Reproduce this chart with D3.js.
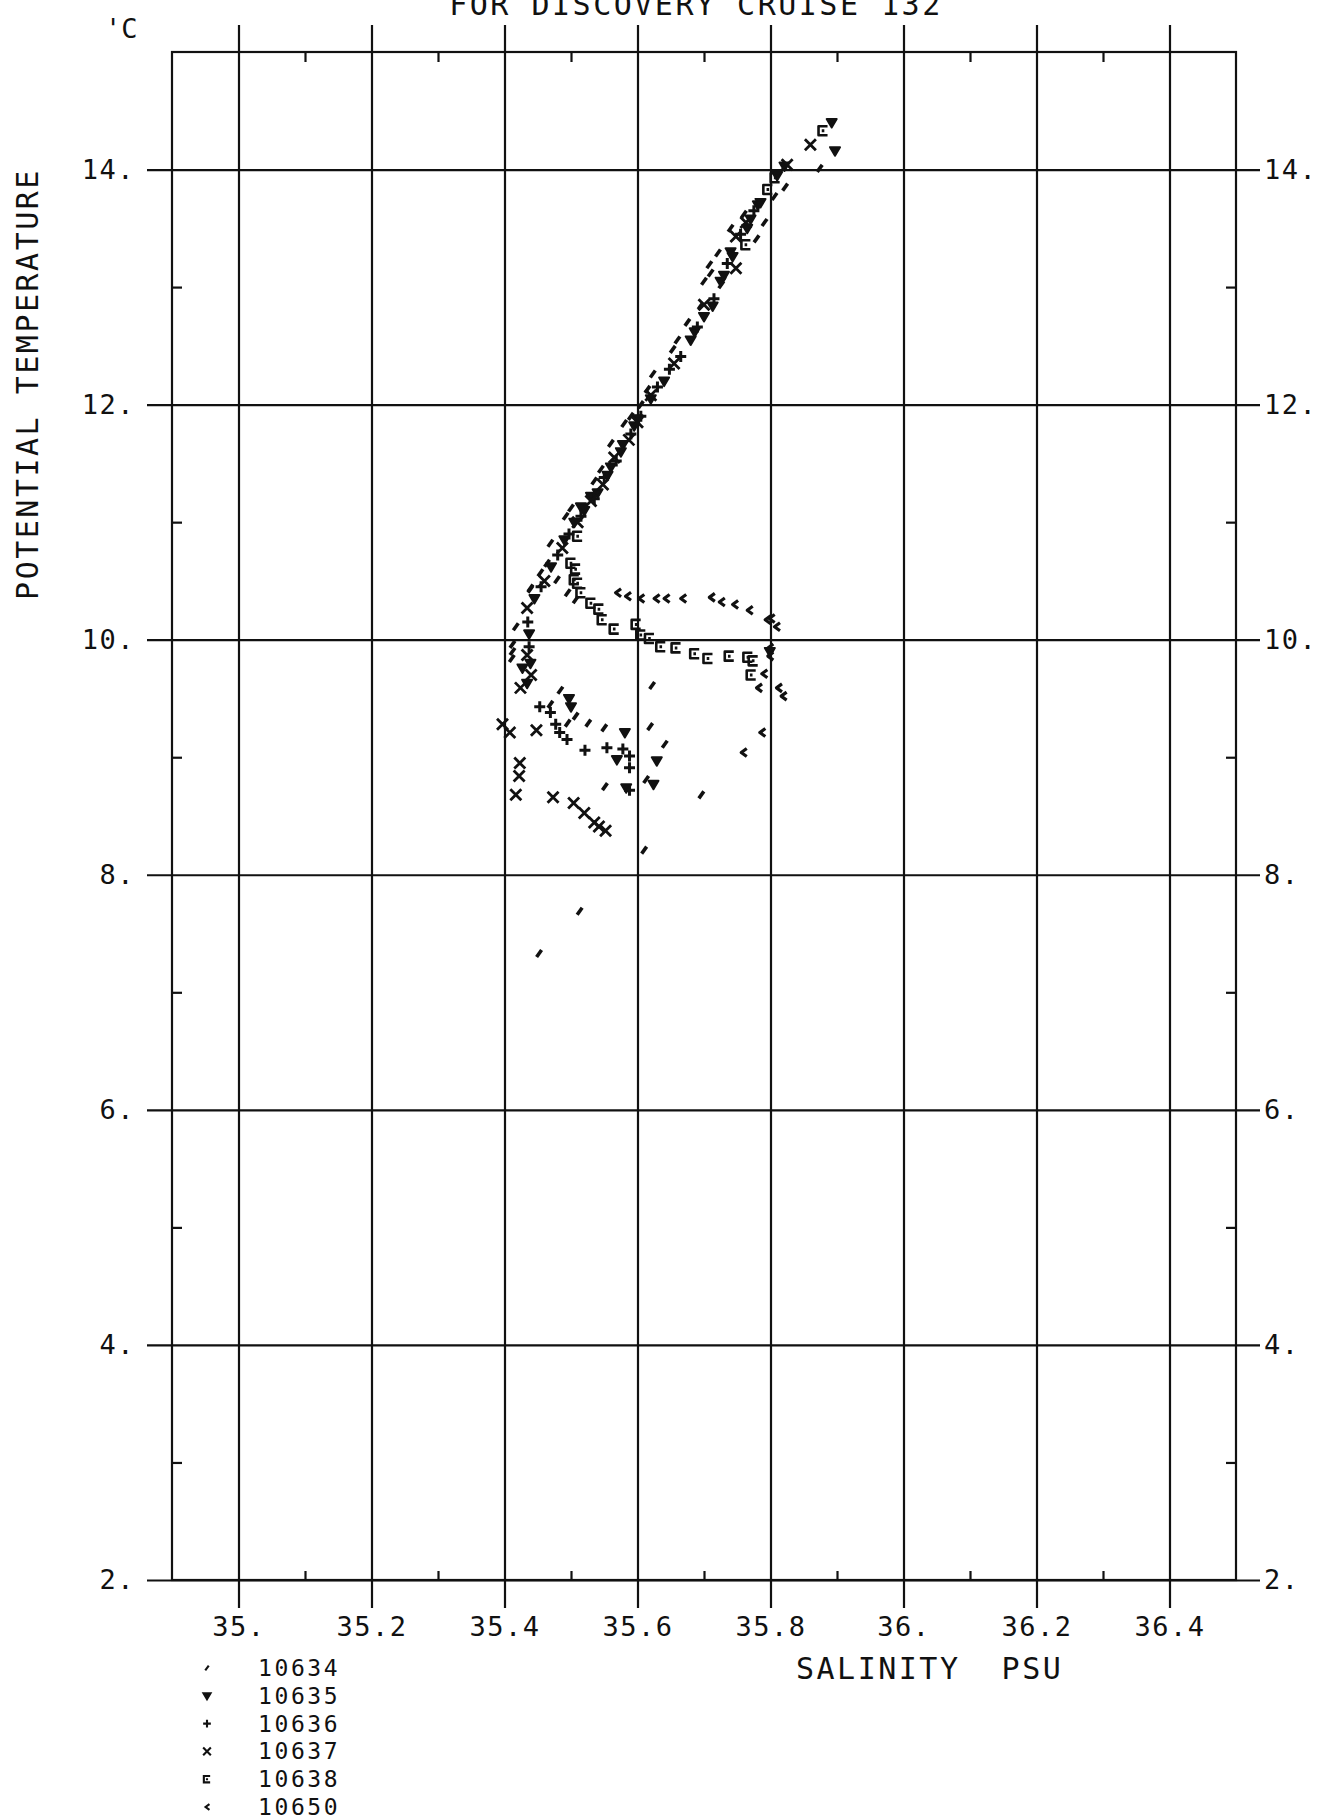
<!DOCTYPE html>
<html>
<head>
<meta charset="utf-8">
<script src="https://d3js.org/d3.v7.min.js"></script>
<style>
  body { margin: 0; background: #fff; overflow: hidden; }
  svg text { font-family: "DejaVu Sans Mono", monospace; fill: #111; }
  .grid line, .minor line, .frame { stroke: #111; stroke-width: 2.2; fill: none; }
  .grid path, .minor path, .rlab path, .rlab line { display: none; }
</style>
</head>
<body>
<div id="chart"></div>
<script>
// axis ticks
const salTicks = [35.0, 35.2, 35.4, 35.6, 35.8, 36.0, 36.2, 36.4];
const salLabels = ["35.", "35.2", "35.4", "35.6", "35.8", "36.", "36.2", "36.4"];
const salMinor = [35.1, 35.3, 35.5, 35.7, 35.9, 36.1, 36.3];
const tempTicks = [2, 4, 6, 8, 10, 12, 14];
const tempLabels = ["2.", "4.", "6.", "8.", "10.", "12.", "14."];
const tempMinor = [3, 5, 7, 9, 11, 13];

const stations = ["10634", "10635", "10636", "10637", "10638", "10650"];

// [salinity, potential temperature]
const st10634 = [
  [35.492, 11.05], [35.469, 10.82], [35.454, 10.57], [35.439, 10.44], [35.417, 10.11],
  [35.412, 9.96], [35.411, 9.84], [35.479, 10.51], [35.495, 10.40], [35.507, 10.34],
  [35.484, 9.57], [35.495, 9.29], [35.507, 9.35], [35.526, 9.29], [35.55, 9.25],
  [35.551, 8.75], [35.619, 9.26], [35.641, 9.11], [35.613, 8.81], [35.622, 9.61],
  [35.61, 8.21], [35.696, 8.68], [35.513, 7.69], [35.452, 7.33], [35.874, 14.01],
  [35.822, 13.85], [35.806, 13.77], [35.791, 13.55], [35.779, 13.41], [35.721, 13.29],
  [35.708, 13.19], [35.726, 13.02], [35.695, 12.84], [35.653, 12.47], [35.623, 12.26],
  [35.615, 12.13], [35.58, 11.84], [35.56, 11.67], [35.535, 11.35], [35.464, 10.65],
  [35.439, 10.43], [35.469, 9.45], [35.412, 9.90], [35.50, 11.12], [35.545, 11.45],
  [35.59, 11.90], [35.605, 12.00], [35.66, 12.55], [35.675, 12.70], [35.70, 13.05],
  [35.71, 13.12], [35.74, 13.50], [35.76, 13.62]
];
const st10635 = [
  [35.427, 9.76], [35.434, 9.63], [35.50, 9.43], [35.497, 9.50], [35.581, 9.21],
  [35.569, 8.98], [35.629, 8.97], [35.624, 8.77], [35.583, 8.74], [35.892, 14.40],
  [35.897, 14.16], [35.821, 14.03], [35.781, 13.70], [35.743, 13.26], [35.713, 12.84],
  [35.686, 12.62], [35.515, 11.13], [35.437, 10.05], [35.445, 10.35], [35.47, 10.62],
  [35.49, 10.85], [35.505, 11.0], [35.52, 11.1], [35.54, 11.25], [35.56, 11.47],
  [35.575, 11.6], [35.595, 11.82], [35.62, 12.05], [35.64, 12.2], [35.68, 12.55],
  [35.70, 12.75], [35.725, 13.05], [35.74, 13.3], [35.765, 13.5], [35.785, 13.72],
  [35.81, 13.95], [35.439, 9.80], [35.799, 9.90], [35.53, 11.22], [35.555, 11.40],
  [35.578, 11.66], [35.60, 11.88], [35.73, 13.10], [35.77, 13.58]
];
const st10636 = [
  [35.453, 9.43], [35.469, 9.38], [35.477, 9.28], [35.483, 9.21], [35.494, 9.15],
  [35.521, 9.06], [35.554, 9.08], [35.578, 9.07], [35.588, 9.01], [35.588, 8.91],
  [35.588, 8.72], [35.435, 10.15], [35.455, 10.45], [35.48, 10.72], [35.497, 10.9],
  [35.515, 11.05], [35.535, 11.2], [35.55, 11.38], [35.568, 11.52], [35.59, 11.75],
  [35.605, 11.9], [35.63, 12.15], [35.648, 12.3], [35.665, 12.41], [35.69, 12.66],
  [35.715, 12.9], [35.735, 13.2], [35.755, 13.45], [35.775, 13.65], [35.437, 9.94]
];
const st10637 = [
  [35.397, 9.28], [35.408, 9.21], [35.448, 9.23], [35.423, 8.95], [35.422, 8.84],
  [35.417, 8.68], [35.473, 8.66], [35.504, 8.61], [35.52, 8.525], [35.535, 8.445],
  [35.542, 8.41], [35.552, 8.375], [35.434, 10.27], [35.434, 9.87], [35.424, 9.59],
  [35.44, 9.70], [35.46, 10.5], [35.487, 10.78], [35.51, 11.0], [35.53, 11.18],
  [35.548, 11.32], [35.565, 11.55], [35.587, 11.70], [35.60, 11.85], [35.62, 12.08],
  [35.655, 12.35], [35.70, 12.85], [35.748, 13.16], [35.748, 13.43], [35.763, 13.55],
  [35.86, 14.21], [35.825, 14.04]
];
const st10638 = [
  [35.507, 10.60], [35.51, 10.48], [35.515, 10.40], [35.53, 10.31], [35.542, 10.26],
  [35.547, 10.17], [35.565, 10.09], [35.598, 10.13], [35.605, 10.04], [35.618, 10.01],
  [35.635, 9.94], [35.658, 9.93], [35.686, 9.88], [35.706, 9.84], [35.738, 9.86],
  [35.766, 9.85], [35.774, 9.82], [35.771, 9.70], [35.879, 14.33], [35.807, 13.93],
  [35.796, 13.83], [35.763, 13.36], [35.51, 10.88], [35.50, 10.65], [35.505, 10.51]
];
const st10650 = [
  [35.57, 10.40], [35.585, 10.37], [35.605, 10.35], [35.628, 10.35], [35.643, 10.35],
  [35.668, 10.35], [35.711, 10.36], [35.726, 10.32], [35.746, 10.30], [35.768, 10.25],
  [35.795, 10.17], [35.801, 10.18], [35.809, 10.11], [35.799, 9.93], [35.799, 9.86],
  [35.79, 9.71], [35.782, 9.59], [35.812, 9.59], [35.819, 9.52], [35.787, 9.21],
  [35.759, 9.04]
];

const seriesData = [st10634, st10635, st10636, st10637, st10638, st10650];

// plotter-like marker shapes, one per station
const markers = [
  { d: "M-2.5,3.5L2.5,-3.5", fill: false, w: 3.6 },
  { d: "M-5,-3.5L5,-3.5L0,5Z", fill: true, w: 2 },
  { d: "M-5.5,0H5.5M0,-5.5V5.5", fill: false, w: 3 },
  { d: "M-5.5,-5.5L5.5,5.5M-5.5,5.5L5.5,-5.5", fill: false, w: 2.8 },
  { d: "M4.5,-4.5H-4.5V4.5H4.5M0,-1.5V1.5", fill: false, w: 2.6 },
  { d: "M3.5,-4L-2,0L3.5,4", fill: false, w: 3.2 }
];

const width = 1318, height = 1816;

const svg = d3.select("#chart").append("svg")
  .attr("width", width).attr("height", height);
svg.append("rect").attr("width", width).attr("height", height).attr("fill", "#fff");

const x = d3.scaleLinear().domain([34.9, 36.5]).range([172, 1236]);
const y = d3.scaleLinear().domain([2, 15]).range([1580, 52]);

// vertical grid lines with salinity labels below
const xAxis = svg.append("g").attr("class", "grid")
  .attr("transform", "translate(0,1608)")
  .call(d3.axisBottom(x).tickValues(salTicks).tickSize(-(1608 - 25)).tickPadding(9)
    .tickFormat((d, i) => salLabels[i]));
xAxis.selectAll("text").style("font-size", "27px").style("letter-spacing", "1.5px");

// horizontal grid lines with temperature labels on the left
const yAxis = svg.append("g").attr("class", "grid")
  .attr("transform", "translate(147,0)")
  .call(d3.axisLeft(y).tickValues(tempTicks).tickSize(-(1260 - 147)).tickPadding(12)
    .tickFormat((d, i) => tempLabels[i]));
yAxis.selectAll("text").style("font-size", "27px").style("letter-spacing", "1.5px");

// labels on the right
const yRight = svg.append("g").attr("class", "rlab")
  .attr("transform", "translate(1236,0)")
  .call(d3.axisRight(y).tickValues(tempTicks).tickSize(0).tickPadding(28)
    .tickFormat((d, i) => tempLabels[i]));
yRight.selectAll("text").style("font-size", "27px").style("letter-spacing", "1.5px");

// minor ticks pointing inward
svg.append("g").attr("class", "minor").attr("transform", "translate(0,1580)")
  .call(d3.axisBottom(x).tickValues(salMinor).tickSize(-9).tickFormat(""));
svg.append("g").attr("class", "minor").attr("transform", "translate(0,52)")
  .call(d3.axisTop(x).tickValues(salMinor).tickSize(-10).tickFormat(""));
svg.append("g").attr("class", "minor").attr("transform", "translate(172,0)")
  .call(d3.axisLeft(y).tickValues(tempMinor).tickSize(-10).tickFormat(""));
svg.append("g").attr("class", "minor").attr("transform", "translate(1236,0)")
  .call(d3.axisRight(y).tickValues(tempMinor).tickSize(-10).tickFormat(""));

// frame
svg.append("rect").attr("class", "frame")
  .attr("x", x(34.9)).attr("y", y(15))
  .attr("width", x(36.5) - x(34.9)).attr("height", y(2) - y(15));

// data points
seriesData.forEach((pts, k) => {
  const m = markers[k];
  svg.append("g").selectAll("path").data(pts).join("path")
    .attr("transform", d => `translate(${x(d[0])},${y(d[1])})`)
    .attr("d", m.d)
    .attr("fill", m.fill ? "#111" : "none")
    .attr("stroke", "#111")
    .attr("stroke-width", m.w)
    .attr("stroke-linejoin", "round");
});

// titles
svg.append("text").attr("x", 696).attr("y", 15).attr("text-anchor", "middle")
  .style("font-size", "30px").style("letter-spacing", "2.5px")
  .text("FOR DISCOVERY CRUISE 132");

svg.append("text").attr("x", 105).attr("y", 38)
  .style("font-size", "27px")
  .text("'C");

svg.append("text").attr("transform", "translate(38,384) rotate(-90)")
  .attr("text-anchor", "middle")
  .style("font-size", "30px").style("letter-spacing", "2.5px")
  .text("POTENTIAL TEMPERATURE");

svg.append("text").attr("x", 796).attr("y", 1679)
  .style("font-size", "30px").style("letter-spacing", "2.5px")
  .style("white-space", "pre")
  .text("SALINITY  PSU");

// legend
const legend = svg.append("g").selectAll("g").data(stations).join("g")
  .attr("transform", (d, i) => `translate(0,${1676 + i * 27.8})`);
legend.append("path")
  .attr("transform", "translate(207,-8) scale(0.7)")
  .attr("d", (d, i) => markers[i].d)
  .attr("fill", (d, i) => markers[i].fill ? "#111" : "none")
  .attr("stroke", "#111").attr("stroke-width", 3);
legend.append("text").attr("x", 258).attr("y", 0)
  .style("font-size", "23px").style("letter-spacing", "2.6px")
  .text(d => d);
</script>
</body>
</html>
